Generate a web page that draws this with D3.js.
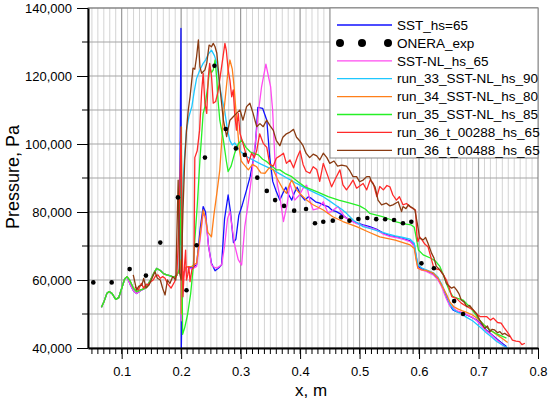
<!DOCTYPE html>
<html><head><meta charset="utf-8">
<script src="https://cdn.jsdelivr.net/npm/d3@7"></script>
<style>
html,body{margin:0;padding:0;background:#fff;}
text{font-family:"Liberation Sans",Arial,sans-serif;}
</style></head>
<body>
<svg id="chart" width="550" height="399"></svg>
<script>
// ---------------- data ----------------
const xTicks = [0.1,0.2,0.3,0.4,0.5,0.6,0.7,0.8];
const yTicks = [40000,60000,80000,100000,120000,140000];
const seriesNames = ["SST_hs=65","ONERA_exp","SST-NL_hs_65","run_33_SST-NL_hs_90","run_34_SST-NL_hs_80","run_35_SST-NL_hs_85","run_36_t_00288_hs_65","run_36_t_00488_hs_65"];

const sstHs65 = [[0.066,52000],[0.070,53500],[0.075,56000],[0.079,56600],[0.084,56000],[0.090,54300],[0.095,54800],[0.100,57500],[0.105,60300],[0.109,61000],[0.114,58800],[0.120,56800],[0.125,56000],[0.131,56800],[0.137,57400],[0.142,58000],[0.148,59800],[0.154,62000],[0.159,63400],[0.165,62800],[0.171,61800],[0.176,61500],[0.182,61200],[0.188,60800],[0.193,61500],[0.197,63000],
[0.1997,134000],[0.2003,40000],[0.2015,52000],[0.204,62000],[0.209,63900],[0.218,63500],[0.226,64500],[0.232,75000],[0.237,81600],[0.241,80000],[0.246,70000],[0.251,64900],[0.257,62700],[0.263,63500],[0.268,64500],[0.273,78000],[0.279,85000],[0.283,80000],[0.288,71000],[0.292,72000],[0.297,79000],[0.302,81600],[0.31,86500],[0.316,90400],[0.322,96000],[0.325,100000],[0.329,110800],[0.337,110500],[0.344,107000],[0.349,96000],[0.354,89000],[0.36,86000],[0.366,83500],[0.371,85500],[0.376,87300],[0.381,85000],[0.386,83500],[0.39,85500],[0.395,87300],[0.401,85000],[0.408,83500],[0.414,84500],[0.419,84000],[0.426,83000],[0.433,82600],[0.44,82000],[0.447,81600],[0.454,80500],[0.461,80100],[0.472,79000],[0.483,77600],[0.495,76800],[0.506,76200],[0.517,75700],[0.528,75000],[0.54,73800],[0.551,73000],[0.562,72700],[0.573,72200],[0.585,71500],[0.592,70200],[0.595,67000],[0.598,64000],[0.604,63300],[0.612,62800],[0.624,61800],[0.632,60200],[0.638,58500],[0.646,55000],[0.652,52500],[0.657,51200],[0.663,50700],[0.672,50300],[0.68,49700],[0.69,48900],[0.697,48200],[0.705,46800],[0.713,45300],[0.722,44000],[0.73,42800],[0.738,41600],[0.747,40400]];

const oneraExp = [[0.0523,59300],[0.0832,59300],[0.1134,63200],[0.1408,61300],[0.1649,71000],[0.1946,84300],[0.209,57000],[0.226,70200],[0.24,96000],[0.256,123000],[0.275,104400],[0.292,98700],[0.307,96800],[0.328,90100],[0.344,86200],[0.358,83500],[0.373,81800],[0.39,80400],[0.41,80900],[0.425,76700],[0.439,77150],[0.455,77450],[0.469,78450],[0.483,77450],[0.498,77950],[0.513,78250],[0.528,77900],[0.543,77850],[0.558,77650],[0.573,76700],[0.587,77150],[0.604,64900],[0.625,63450],[0.659,53800],[0.674,50000]];

const sstNlHs65 = [[0.066,52000],[0.070,53500],[0.075,56000],[0.079,56600],[0.084,56000],[0.090,54300],[0.095,54800],[0.100,57500],[0.105,60300],[0.109,61000],[0.114,58800],[0.120,56800],[0.125,56000],[0.131,56800],[0.137,57400],[0.142,58000],[0.148,59800],[0.154,62000],[0.159,63400],[0.165,62800],[0.171,61800],[0.176,61500],[0.182,61200],[0.188,60800],[0.193,61500],[0.197,63000],
[0.1997,70000],[0.2003,48000],[0.2015,55000],[0.204,61000],[0.209,63900],[0.218,63200],[0.226,64000],[0.232,72000],[0.237,79600],[0.241,78500],[0.246,70000],[0.251,64500],[0.254,63900],[0.26,63500],[0.268,64400],[0.273,70000],[0.278,78000],[0.282,80100],[0.286,75000],[0.29,70300],[0.296,66000],[0.3017,64400],[0.307,75700],[0.3128,82600],[0.3185,90400],[0.323,98000],[0.327,104000],[0.3296,109000],[0.3353,116900],[0.3425,123500],[0.3504,116900],[0.3538,110000],[0.3577,95300],[0.362,88000],[0.366,84500],[0.372,77200],[0.378,82000],[0.383,88400],[0.391,83500],[0.399,85000],[0.405,87000],[0.411,87900],[0.417,83000],[0.422,80600],[0.43,81000],[0.439,83000],[0.447,79600],[0.455,80500],[0.464,81600],[0.475,78500],[0.484,77600],[0.495,76600],[0.506,76000],[0.517,75300],[0.528,74800],[0.54,73500],[0.551,72800],[0.562,72500],[0.573,72000],[0.585,71300],[0.592,70000],[0.595,66500],[0.598,63500],[0.604,63000],[0.612,62500],[0.624,61500],[0.632,60000],[0.638,58000],[0.646,54500],[0.652,52300],[0.657,52000],[0.663,51000],[0.672,50500],[0.68,49800],[0.69,49000],[0.697,48000],[0.705,46500],[0.713,45000],[0.722,43800],[0.73,42500],[0.738,41300],[0.745,40300]];

const run33 = [[0.066,52000],[0.070,53500],[0.075,56000],[0.079,56600],[0.084,56000],[0.090,54300],[0.095,54800],[0.100,57500],[0.105,60300],[0.109,61000],[0.114,59800],[0.120,57500],[0.125,56600],[0.131,57000],[0.137,57400],[0.142,58000],[0.148,59800],[0.154,62000],[0.159,63400],[0.165,62800],[0.171,61800],[0.176,61500],[0.182,61200],[0.188,60800],[0.193,61500],[0.197,63000],
[0.1995,64000],[0.201,75000],[0.2035,89400],[0.206,97000],[0.209,104000],[0.213,108000],[0.218,111000],[0.222,115500],[0.226,119300],[0.232,122000],[0.237,123700],[0.241,124700],[0.246,126500],[0.251,127600],[0.256,126000],[0.26,123700],[0.265,116900],[0.269,113000],[0.273,110000],[0.278,104000],[0.282,101000],[0.286,99700],[0.29,100300],[0.295,99000],[0.3,97800],[0.31,96300],[0.321,95300],[0.335,94000],[0.345,93200],[0.355,92400],[0.365,91300],[0.375,90300],[0.385,89300],[0.394,88400],[0.405,87400],[0.415,86500],[0.427,85500],[0.439,84500],[0.45,83200],[0.46,82000],[0.47,80800],[0.478,79600],[0.49,77500],[0.506,75700],[0.52,75000],[0.534,74200],[0.547,73600],[0.56,73000],[0.573,72500],[0.585,72000],[0.592,70800],[0.595,67500],[0.598,64500],[0.604,63600],[0.612,63000],[0.625,62000],[0.632,60800],[0.638,58800],[0.646,55500],[0.652,53000],[0.658,51300],[0.665,50500],[0.672,50000],[0.68,49000],[0.69,48000],[0.697,47000],[0.705,45800],[0.713,44500],[0.722,43200],[0.73,42000],[0.74,40900],[0.749,40000]];

const run34 = [[0.066,52000],[0.070,53500],[0.075,56000],[0.079,56600],[0.084,56000],[0.090,54300],[0.095,54800],[0.100,57500],[0.105,60300],[0.109,61000],[0.114,59800],[0.120,57500],[0.125,56600],[0.131,57000],[0.137,57400],[0.142,58000],[0.148,59800],[0.154,62000],[0.159,63400],[0.165,62800],[0.171,61800],[0.176,61500],[0.182,61200],[0.188,60800],[0.193,61500],[0.197,63000],
[0.1997,66000],[0.2003,50000],[0.2015,56000],[0.204,62000],[0.209,63900],[0.218,64000],[0.226,65000],[0.232,73000],[0.237,80600],[0.241,78000],[0.245,74000],[0.251,72700],[0.255,79000],[0.26,85500],[0.265,92400],[0.271,108000],[0.275,115000],[0.279,121800],[0.282,124700],[0.286,122000],[0.289,116900],[0.292,110000],[0.295,104100],[0.298,98200],[0.301,95000],[0.304,94300],[0.313,92400],[0.32,94000],[0.327,93300],[0.334,91500],[0.341,91400],[0.348,93000],[0.355,92400],[0.361,90000],[0.366,88400],[0.372,86500],[0.377,85500],[0.382,88000],[0.386,89400],[0.394,86500],[0.402,85000],[0.411,83500],[0.421,82200],[0.439,80600],[0.455,78600],[0.472,77200],[0.495,75700],[0.514,74200],[0.534,72700],[0.56,71700],[0.585,70300],[0.592,69300],[0.595,66000],[0.598,63500],[0.604,63000],[0.612,62800],[0.624,62000],[0.632,60500],[0.638,58500],[0.646,55800],[0.652,53500],[0.658,52200],[0.665,51500],[0.672,51000],[0.68,50500],[0.69,49700],[0.697,48800],[0.705,47500],[0.713,46200],[0.722,45000],[0.73,44000],[0.74,42800],[0.749,41600]];

const run35 = [[0.066,52000],[0.070,53500],[0.075,56000],[0.079,56600],[0.084,56000],[0.090,54300],[0.095,54800],[0.100,57500],[0.105,60300],[0.109,61000],[0.114,59800],[0.120,57500],[0.125,56600],[0.131,57000],[0.137,57400],[0.142,58000],[0.148,59800],[0.154,62000],[0.159,63400],[0.165,62800],[0.171,61800],[0.176,61500],[0.182,61200],[0.188,60800],[0.193,61500],[0.197,63000],
[0.1995,80000],[0.2005,105000],[0.2015,62000],[0.2025,44000],[0.206,46000],[0.211,50000],[0.216,56000],[0.22,63000],[0.223,71800],[0.227,81600],[0.2316,95300],[0.237,109000],[0.24,111000],[0.2455,117800],[0.248,122700],[0.251,121000],[0.254,121800],[0.257,124700],[0.26,119000],[0.262,113000],[0.265,107000],[0.271,101200],[0.276,95000],[0.279,91900],[0.284,93500],[0.29,97300],[0.296,100000],[0.302,101200],[0.309,99000],[0.316,97700],[0.323,97200],[0.33,96800],[0.337,95500],[0.344,94800],[0.352,93500],[0.36,92400],[0.366,92400],[0.376,91200],[0.386,90400],[0.397,88800],[0.408,87400],[0.428,86000],[0.447,84500],[0.465,83500],[0.484,82600],[0.5,81800],[0.51,80800],[0.517,79600],[0.54,78600],[0.56,77200],[0.575,76500],[0.587,76200],[0.592,75500],[0.595,72700],[0.599,68800],[0.607,67400],[0.62,66400],[0.628,65500],[0.635,64000],[0.641,61500],[0.646,59000],[0.652,56500],[0.657,55100],[0.665,54600],[0.674,54100],[0.68,53000],[0.685,52200],[0.693,50300],[0.702,48200],[0.71,46600],[0.719,45300],[0.73,44200],[0.747,42900]];

const run36t288 = [[0.122,58000],[0.128,57100],[0.133,59000],[0.137,57600],[0.141,58800],[0.144,58500],[0.149,59500],[0.153,60000],[0.157,61200],[0.161,61500],[0.165,60500],[0.169,61000],[0.173,60500],[0.177,59000],[0.183,57600],[0.189,59500],[0.193,62000],[0.196,75000],[0.1985,92000],[0.2,105000],[0.2015,75000],[0.203,55100],[0.2055,63900],[0.2075,68800],[0.209,60000],[0.211,61500],[0.213,63900],[0.215,59500],[0.218,63000],[0.2215,63900],[0.223,96000],[0.227,98000],[0.231,104000],[0.2345,115400],[0.237,120800],[0.24,112000],[0.243,109000],[0.2455,119300],[0.248,123700],[0.251,120000],[0.254,112000],[0.258,112500],[0.262,115400],[0.268,122700],[0.2736,129600],[0.276,127500],[0.279,121800],[0.282,118800],[0.285,113900],[0.2876,115900],[0.29,109000],[0.293,104100],[0.296,109000],[0.299,103100],[0.304,100200],[0.309,97000],[0.313,94300],[0.3185,97300],[0.323,96000],[0.327,98000],[0.332,103000],[0.338,100200],[0.344,99000],[0.349,94000],[0.355,93500],[0.36,95800],[0.366,96500],[0.372,97300],[0.377,94300],[0.383,95300],[0.389,93000],[0.395,96000],[0.4,98000],[0.405,94000],[0.41,92000],[0.4165,91400],[0.422,93300],[0.428,92500],[0.433,89000],[0.439,94300],[0.447,90400],[0.453,87400],[0.46,90000],[0.467,92400],[0.472,88000],[0.478,86500],[0.484,88000],[0.489,89400],[0.495,87000],[0.506,88400],[0.512,86500],[0.518,89500],[0.523,88400],[0.529,84500],[0.534,87500],[0.54,86500],[0.546,87800],[0.551,87400],[0.556,85000],[0.562,83500],[0.567,84500],[0.573,82100],[0.579,82500],[0.584,81600],[0.59,81000],[0.594,80600],[0.5965,73000],[0.598,71300],[0.601,72700],[0.604,72000],[0.61,70500],[0.615,69800],[0.621,66000],[0.625,63400],[0.635,63000],[0.641,61500],[0.646,60000],[0.651,57500],[0.655,55100],[0.663,54600],[0.671,53200],[0.68,52200],[0.691,51200],[0.697,50000],[0.703,49200],[0.714,49200],[0.72,48200],[0.725,48800],[0.732,47500],[0.738,47300],[0.743,46000],[0.748,44800],[0.752,43800],[0.757,42300],[0.763,42000],[0.769,41900],[0.773,41000],[0.778,41400]];

const run36t488 = [[0.1195,61500],[0.125,57100],[0.129,58200],[0.134,58500],[0.137,60500],[0.141,57600],[0.146,58500],[0.151,60500],[0.156,62400],[0.16,60500],[0.165,60000],[0.169,57500],[0.173,55600],[0.177,60000],[0.181,59000],[0.186,61000],[0.191,60000],[0.195,89400],[0.1975,62000],[0.2,60000],[0.203,80000],[0.206,95000],[0.209,104000],[0.212,110000],[0.215,113900],[0.22,122300],[0.223,122000],[0.226,125700],[0.229,130600],[0.2316,122700],[0.2345,120800],[0.24,121800],[0.243,123700],[0.247,129100],[0.251,128600],[0.254,129600],[0.257,128600],[0.26,126700],[0.2625,121800],[0.265,117000],[0.268,112000],[0.271,107000],[0.2765,102200],[0.282,107000],[0.2876,108000],[0.293,109000],[0.299,110000],[0.304,107000],[0.31,111000],[0.3156,112000],[0.321,109000],[0.327,105100],[0.3325,106000],[0.338,105100],[0.3437,107000],[0.349,105500],[0.355,104000],[0.36,101000],[0.366,99500],[0.371,102000],[0.377,103000],[0.383,103500],[0.389,104300],[0.394,102000],[0.4,100800],[0.405,99500],[0.41,97300],[0.416,96000],[0.422,97000],[0.428,96500],[0.433,95300],[0.439,97300],[0.445,96000],[0.45,94300],[0.457,95000],[0.463,93500],[0.47,93800],[0.478,93500],[0.484,92000],[0.489,90400],[0.495,90400],[0.5,88900],[0.506,89400],[0.512,90400],[0.517,90400],[0.52,88900],[0.526,87400],[0.5286,85500],[0.531,83500],[0.537,82100],[0.545,82600],[0.551,81800],[0.556,82100],[0.565,83000],[0.5706,80100],[0.573,81600],[0.578,81000],[0.582,82100],[0.586,81500],[0.59,81100],[0.593,80600],[0.5985,75200],[0.601,72300],[0.607,71800],[0.611,72500],[0.615,70800],[0.621,67900],[0.625,66500],[0.629,64000],[0.635,63000],[0.641,61500],[0.646,59000],[0.6546,57600],[0.659,58000],[0.663,57100],[0.667,56000],[0.671,54100],[0.676,53500],[0.68,52200],[0.685,52500],[0.691,51200],[0.697,50000],[0.702,48200],[0.7106,45800],[0.715,46500],[0.719,44800],[0.723,45500],[0.727,45300],[0.732,44500],[0.736,44800],[0.74,44000],[0.744,44300],[0.7526,43300]];

// ---------------- chart ----------------
const colors = {
  blue:"#1010ff", magenta:"#ff4af0", cyan:"#1ec8ff", orange:"#ff7f1a",
  green:"#26f026", red:"#ff2a2a", brown:"#8a3b12"
};
const lineSeries = [
  {name:seriesNames[0], data:sstHs65, color:colors.blue},
  {name:seriesNames[2], data:sstNlHs65, color:colors.magenta},
  {name:seriesNames[3], data:run33, color:colors.cyan},
  {name:seriesNames[4], data:run34, color:colors.orange},
  {name:seriesNames[5], data:run35, color:colors.green},
  {name:seriesNames[6], data:run36t288, color:colors.red},
  {name:seriesNames[7], data:run36t488, color:colors.brown}
];

const L = 88, R = 538, T = 8, B = 348;
const x = d3.scaleLinear().domain([0.0434, 0.8]).range([L, R]);
const y = d3.scaleLinear().domain([40000, 140000]).range([B, T]);

const svg = d3.select("#chart");
svg.append("defs").append("clipPath").attr("id","clip")
  .append("rect").attr("x",L).attr("y",T).attr("width",R-L).attr("height",B-T);

const grid = svg.append("g");
const minorX = d3.range(5, 80).map(i => i/100).filter(v => Math.round(v*100) % 10 !== 0);
grid.selectAll(".vminor").data(minorX).join("line")
  .attr("x1", d=>x(d)).attr("x2", d=>x(d)).attr("y1", T).attr("y2", B)
  .attr("stroke", "#d4d4d4").attr("stroke-width", 1);
grid.selectAll(".vmajor").data(xTicks.slice(0,-1)).join("line")
  .attr("x1", d=>x(d)).attr("x2", d=>x(d)).attr("y1", T).attr("y2", B)
  .attr("stroke", "#999").attr("stroke-width", 1.2);
const yGrid = d3.range(50000, 140001, 10000);
grid.selectAll(".hgrid").data(yGrid).join("line")
  .attr("x1", L).attr("x2", R).attr("y1", d=>y(d)).attr("y2", d=>y(d))
  .attr("stroke", "#a6a6a6").attr("stroke-width", 1.2);

svg.append("rect").attr("x",L).attr("y",T).attr("width",R-L).attr("height",B-T)
  .attr("fill","none").attr("stroke","#777").attr("stroke-width",1);

const lineGen = d3.line().x(d=>x(d[0])).y(d=>y(d[1]));
const plot = svg.append("g").attr("clip-path","url(#clip)");
lineSeries.forEach(s => {
  plot.append("path").datum(s.data).attr("d", lineGen)
    .attr("fill","none").attr("stroke", s.color).attr("stroke-width", 1.3)
    .attr("stroke-linejoin","round");
});
plot.selectAll(".dot").data(oneraExp).join("circle")
  .attr("cx", d=>x(d[0])).attr("cy", d=>y(d[1])).attr("r", 2.3).attr("fill","#000");

// axes
const xAxis = d3.axisBottom(x).tickValues(xTicks).tickFormat(d3.format(".1f"))
  .tickSize(11).tickSizeOuter(0).tickPadding(8);
const gx = svg.append("g").attr("transform", `translate(0,${B})`).call(xAxis);
gx.selectAll("text").attr("font-size", 13).attr("font-family","Liberation Sans, Arial, sans-serif").attr("fill","#000");
gx.select(".domain").attr("stroke","#000").attr("stroke-width",2);
gx.selectAll(".tick line").attr("stroke","#000");
const xMinorAll = d3.range(5, 80).map(i => i/100);
svg.append("g").selectAll("line").data(xMinorAll).join("line")
  .attr("x1", d=>x(d)).attr("x2", d=>x(d)).attr("y1", B).attr("y2", B+6)
  .attr("stroke","#000").attr("stroke-width",1);

const yAxis = d3.axisLeft(y).tickValues(yTicks).tickFormat(d3.format(","))
  .tickSize(11).tickSizeOuter(0).tickPadding(5);
const gy = svg.append("g").attr("transform", `translate(${L},0)`).call(yAxis);
gy.selectAll("text").attr("font-size", 13).attr("font-family","Liberation Sans, Arial, sans-serif").attr("fill","#000");
gy.select(".domain").attr("stroke","#000").attr("stroke-width",2);
gy.selectAll(".tick line").attr("stroke","#000");
svg.append("g").selectAll("line").data([50000,70000,90000,110000,130000]).join("line")
  .attr("x1", L-6).attr("x2", L).attr("y1", d=>y(d)).attr("y2", d=>y(d))
  .attr("stroke","#000").attr("stroke-width",1);

svg.append("text").attr("x", 311).attr("y", 396).attr("text-anchor","middle")
  .attr("font-size", 17).text("x, m");
svg.append("text").attr("transform","translate(19,177) rotate(-90)")
  .attr("text-anchor","middle").attr("font-size", 18).text("Pressure, Pa");

// legend
const lg = svg.append("g");
lg.append("rect").attr("x",330).attr("y",T).attr("width",R-330).attr("height",150)
  .attr("fill","#fff").attr("stroke","#888").attr("stroke-width",1);
const legendItems = [
  {name:seriesNames[0], color:colors.blue, type:"line"},
  {name:seriesNames[1], color:"#000", type:"dot"},
  {name:seriesNames[2], color:colors.magenta, type:"line"},
  {name:seriesNames[3], color:colors.cyan, type:"line"},
  {name:seriesNames[4], color:colors.orange, type:"line"},
  {name:seriesNames[5], color:colors.green, type:"line"},
  {name:seriesNames[6], color:colors.red, type:"line"},
  {name:seriesNames[7], color:colors.brown, type:"line"}
];
legendItems.forEach((it, i) => {
  const cy = 25 + i*17.9;
  if (it.type === "line") {
    lg.append("line").attr("x1",337).attr("x2",392).attr("y1",cy).attr("y2",cy)
      .attr("stroke", it.color).attr("stroke-width",1.3);
  } else {
    [340,362,388].forEach(cx => lg.append("circle").attr("cx",cx).attr("cy",cy).attr("r",4).attr("fill","#000"));
  }
  lg.append("text").attr("x",397).attr("y",cy).attr("dy","0.35em")
    .attr("font-size",13.5).attr("fill","#000").text(it.name);
});
</script>
</body></html>
